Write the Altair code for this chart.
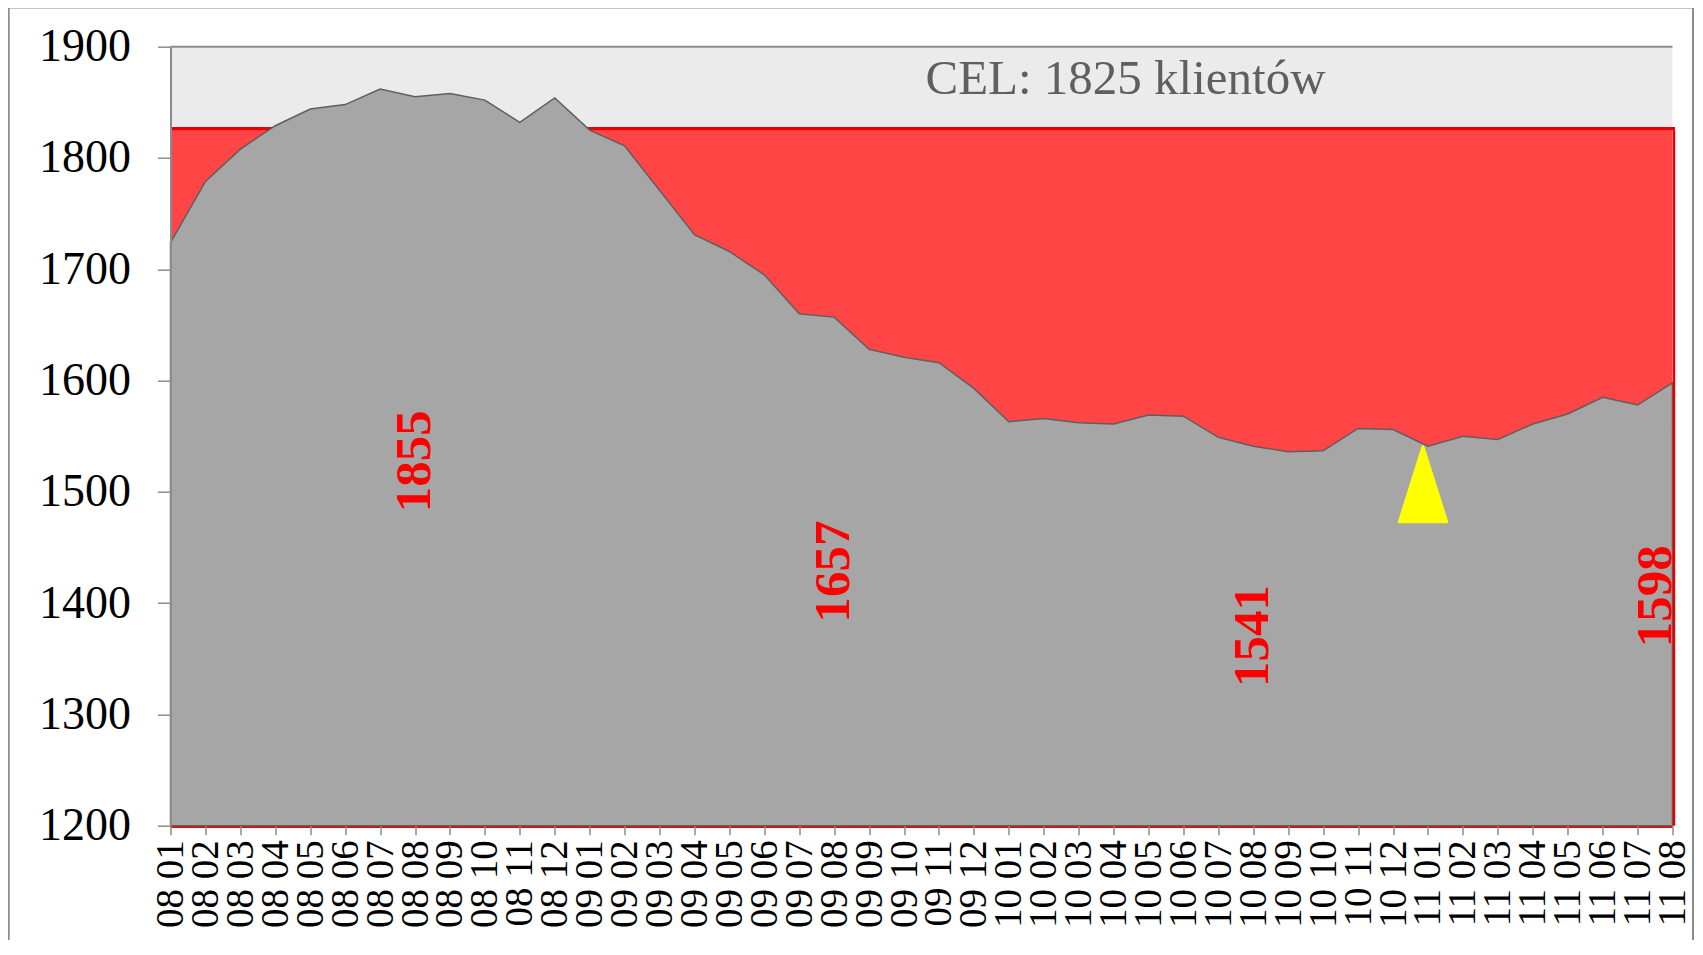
import altair as alt
import pandas as pd

months = ["08 01", "08 02", "08 03", "08 04", "08 05", "08 06", "08 07", "08 08", "08 09", "08 10", "08 11", "08 12",
          "09 01", "09 02", "09 03", "09 04", "09 05", "09 06", "09 07", "09 08", "09 09", "09 10", "09 11", "09 12",
          "10 01", "10 02", "10 03", "10 04", "10 05", "10 06", "10 07", "10 08", "10 09", "10 10", "10 11", "10 12",
          "11 01", "11 02", "11 03", "11 04", "11 05", "11 06", "11 07", "11 08"]
values = [1724, 1779, 1808, 1829, 1844, 1848, 1862, 1855, 1858, 1852, 1832, 1854,
          1825, 1811, 1771, 1731, 1716, 1695, 1660, 1657, 1628, 1621, 1616, 1593,
          1563, 1566, 1562, 1561, 1569, 1568, 1549, 1541, 1536, 1537, 1557, 1556,
          1541, 1550, 1547, 1561, 1570, 1585, 1578, 1598]
target = 1825
y_min, y_max = 1200, 1900
label_months = ["08 08", "09 08", "10 08", "11 08"]
marker_month = "11 01"
goal_text = "CEL: 1825 klientów"

df = pd.DataFrame({"month": months, "value": values})
df["target"] = target
df["base"] = y_min

FONT = "Liberation Serif"
RED_LINE = "#EE0000"

xscale = alt.Scale(type="point", padding=0)
yscale = alt.Scale(domain=[y_min, y_max], nice=False, zero=False)

x_enc = alt.X("month:O", sort=None, scale=xscale,
              axis=alt.Axis(title=None, labelAngle=270, labelFont=FONT, labelFontSize=39,
                            labelColor="black", tickSize=9, tickColor="#8C8C8C", tickWidth=1.5,
                            labelPadding=5, domain=False, labelOverlap=False, grid=False, zindex=1))

base = alt.Chart(df)

bg = alt.Chart(pd.DataFrame({"lo": [target], "hi": [y_max]})).mark_rect(fill="#EBEBEB").encode(
    y=alt.Y("lo:Q", scale=yscale), y2="hi:Q"
)

red = base.mark_area(fill="#FF4545", opacity=1).encode(
    x=x_enc,
    y=alt.Y("target:Q", scale=yscale, title=None,
            axis=alt.Axis(values=list(range(1200, 1901, 100)), format="d", labelFont=FONT, labelFontSize=46,
                          labelColor="black", tickSize=13, tickColor="#8C8C8C", tickWidth=1.5,
                          domainColor="#8C8C8C", domainWidth=2, labelPadding=27, grid=False,
                          title=None, zindex=1)),
    y2="base:Q",
)

# red outline of the target band: top, right edge, bottom
red_top = alt.Chart(pd.DataFrame({"v": [target]})).mark_rule(
    color=RED_LINE, strokeWidth=3.5, yOffset=-1.5, x2Offset=2.5
).encode(y=alt.Y("v:Q", scale=yscale), x=alt.value(0), x2=alt.value(1502))
red_bottom = alt.Chart(pd.DataFrame({"v": [y_min]})).mark_rule(
    color=RED_LINE, strokeWidth=2, yOffset=1.2
).encode(y=alt.Y("v:Q", scale=yscale))
red_right = base.transform_filter(
    alt.FieldEqualPredicate(field="month", equal=months[-1])
).mark_rule(color=RED_LINE, strokeWidth=2.5, xOffset=1.5).encode(
    x=alt.X("month:O", sort=None, scale=xscale),
    y=alt.Y("target:Q", scale=yscale),
    y2="base:Q",
)

gray = base.mark_area(fill="#A6A6A6", stroke="#5F5F5F", strokeWidth=1.5, opacity=1).encode(
    x=alt.X("month:O", sort=None, scale=xscale),
    y=alt.Y("value:Q", scale=yscale),
    y2="base:Q",
)

top_rule = alt.Chart(pd.DataFrame({"v": [y_max]})).mark_rule(color="#8C8C8C", strokeWidth=2).encode(
    y=alt.Y("v:Q", scale=yscale)
)

lab = base.transform_filter(
    alt.FieldOneOfPredicate(field="month", oneOf=label_months[:-1])
).transform_calculate(mid="(datum.value + datum.base) / 2")
labels = lab.mark_text(angle=270, font=FONT, fontSize=51, fontWeight="bold", color="#FF0000",
                       align="center", baseline="middle").encode(
    x=alt.X("month:O", sort=None, scale=xscale),
    y=alt.Y("mid:Q", scale=yscale),
    text=alt.Text("value:Q"),
)
lab_last = base.transform_filter(
    alt.FieldEqualPredicate(field="month", equal=label_months[-1])
).transform_calculate(mid="(datum.value + datum.base) / 2")
labels_last = lab_last.mark_text(angle=270, font=FONT, fontSize=51, fontWeight="bold", color="#FF0000",
                                 align="center", baseline="middle", xOffset=-16, yOffset=-8).encode(
    x=alt.X("month:O", sort=None, scale=xscale),
    y=alt.Y("mid:Q", scale=yscale),
    text=alt.Text("value:Q"),
)

marker = base.transform_filter(
    alt.FieldEqualPredicate(field="month", equal=marker_month)
).mark_point(shape="M 0 -1 L 0.63 1 L -0.63 1 Z", size=5625, filled=True, fill="#FFFF00",
             stroke="#FFFF00", strokeWidth=3, strokeJoin="round", opacity=1,
             xOffset=-5, yOffset=38).encode(
    x=alt.X("month:O", sort=None, scale=xscale),
    y=alt.Y("value:Q", scale=yscale),
)

goal = alt.Chart(pd.DataFrame({"t": [goal_text]})).mark_text(
    font=FONT, fontSize=49, color="#5F5F5F", align="center", baseline="alphabetic"
).encode(x=alt.value(955), y=alt.value(47), text="t:N")

frame = alt.Chart(pd.DataFrame({"a": [0]})).mark_rect(
    fill="white", fillOpacity=0, stroke="#8C8C8C", strokeWidth=2
).encode(x=alt.value(-161.8), x2=alt.value(1522.5), y=alt.value(-39.1), y2=alt.value(950))

chart = alt.layer(bg, red, red_bottom, red_top, gray, red_right, top_rule, marker,
                  labels, labels_last, goal, frame).properties(
    width=1502, height=779,
    autosize=alt.AutoSizeParams(type="none"),
    padding={"left": 162.5, "top": 38.7, "right": 22, "bottom": 114},
).configure(background="white").configure_view(stroke=None)

chart.save("out.html", embed_options={"renderer": "svg", "actions": False})
